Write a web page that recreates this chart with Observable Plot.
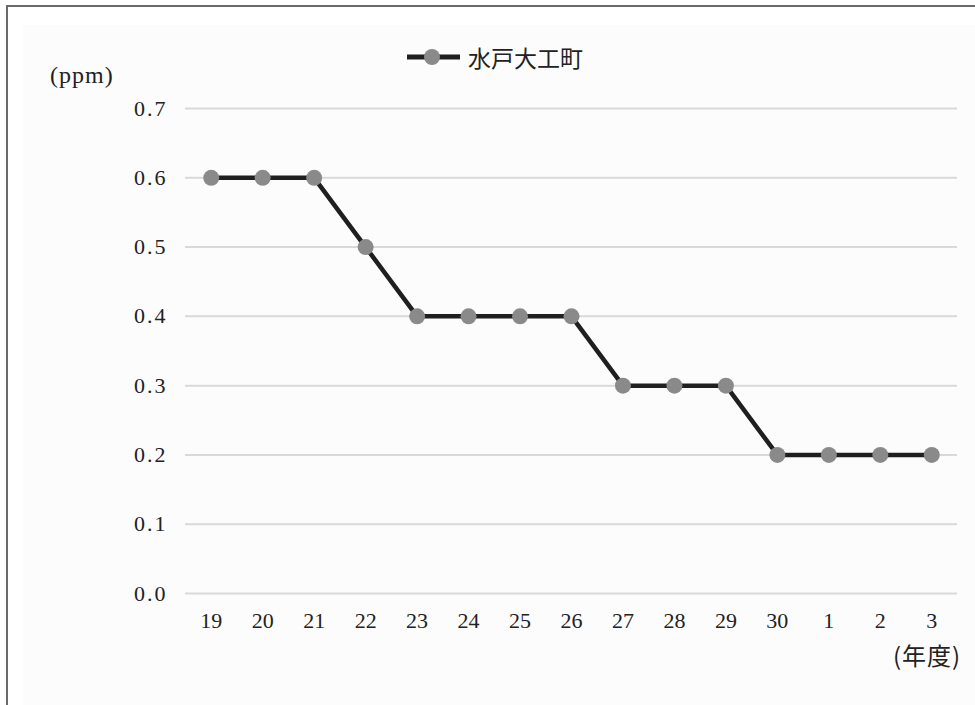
<!DOCTYPE html>
<html>
<head>
<meta charset="utf-8">
<script src="https://cdn.jsdelivr.net/npm/d3@7"></script>
<script src="https://cdn.jsdelivr.net/npm/@observablehq/plot@0.6"></script>
<style>
  html, body { margin: 0; padding: 0; background: #fff; }
  #wrap { position: relative; width: 975px; height: 705px; overflow: hidden; }
  #frame { position: absolute; left: 6px; top: 5px; right: -4px; bottom: -4px;
           border-left: 2px solid #6a6a6a; border-top: 2px solid #6a6a6a; }
  #panel { position: absolute; left: 23px; top: 25px; right: 0; bottom: 0; background: #fcfcfc; }
  #chart { position: absolute; left: 0; top: 0; }
  .note { position: absolute; color: #222; white-space: nowrap; }
  #unit { left: 50px; top: 62px; font: 24px "Liberation Serif", "DejaVu Serif", serif; letter-spacing: 1px; }
  #period { left: 893px; top: 637px; font: 24px "Noto Sans CJK JP", sans-serif; letter-spacing: 1px; }
  #legend { left: 405px; top: 40px; display: flex; align-items: center; gap: 6px;
            font: 23px "Noto Sans CJK JP", sans-serif; color: #222; }
</style>
</head>
<body>
<div id="wrap">
  <div id="panel"></div>
  <div id="frame"></div>
  <div id="chart"></div>
  <div class="note" id="unit">(ppm)</div>
  <div class="note" id="period">(年度)</div>
  <div class="note" id="legend">
    <svg width="57" height="20"><line x1="2" x2="55" y1="10" y2="10" stroke="#1f1f1f" stroke-width="5"/><circle cx="27" cy="10" r="8" fill="#8a8a8a"/></svg>
    <span>水戸大工町</span>
  </div>
</div>
<script>
// Fiscal years (Heisei 19–30, then Reiwa 1–3)
const years = ["19","20","21","22","23","24","25","26","27","28","29","30","1","2","3"];
// Annual value at Mito Daikumachi (ppm)
const values = [0.6,0.6,0.6,0.5,0.4,0.4,0.4,0.4,0.3,0.3,0.3,0.2,0.2,0.2,0.2];
// Gridline / tick values on the ppm axis
const yTicks = [0,0.1,0.2,0.3,0.4,0.5,0.6,0.7];

const data = years.map((year, i) => ({year, value: values[i]}));

const chart = Plot.plot({
  width: 975,
  height: 705,
  marginTop: 108,
  marginBottom: 112,
  marginLeft: 185,
  marginRight: 18,
  style: {background: "transparent", fontFamily: "'Liberation Serif', 'DejaVu Serif', serif", fontSize: "22px", color: "#222"},
  x: {type: "point", domain: years, padding: 0.5, round: false, label: null},
  y: {domain: [0, 0.7], label: null},
  marks: [
    Plot.ruleY(yTicks, {stroke: "#d9d9d9", strokeWidth: 2}),
    Plot.axisY({ticks: yTicks, tickSize: 0, tickPadding: 18, tickFormat: d3.format(".1f"), label: null}),
    Plot.axisX({tickSize: 0, tickPadding: 19, label: null}),
    Plot.line(data, {x: "year", y: "value", stroke: "#1f1f1f", strokeWidth: 4.5}),
    Plot.dot(data, {x: "year", y: "value", r: 8, fill: "#8a8a8a", stroke: "none"})
  ]
});
document.getElementById("chart").appendChild(chart);
// widen the decimal point spacing on the ppm labels
chart.querySelectorAll('[aria-label="y-axis tick label"] text').forEach(t => t.setAttribute("letter-spacing", "2"));
</script>
</body>
</html>
